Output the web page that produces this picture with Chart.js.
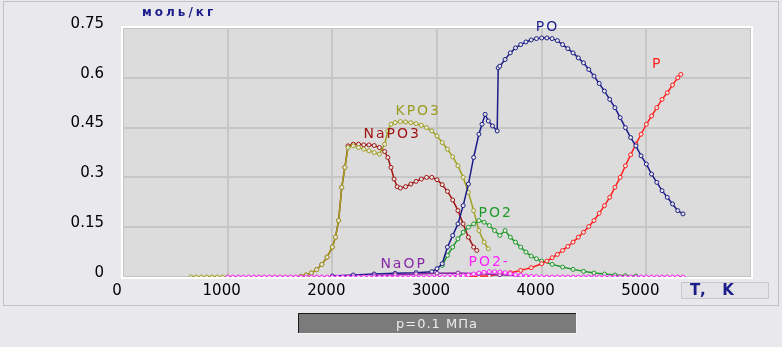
<!DOCTYPE html>
<html>
<head>
<meta charset="utf-8">
<script src="https://cdn.jsdelivr.net/npm/chart.js@4"></script>
<style>
html, body { margin: 0; padding: 0; background: #e9e9ed; }
canvas { display: block; }
</style>
</head>
<body>
<canvas id="chart" width="782" height="347" style="width:782px;height:347px"></canvas>
<script>
// temperature, K  /  concentration, mol/kg
var kpo3T = [650, 700, 750, 800, 850, 900, 950, 1000, 1700, 1750, 1800, 1850, 1900, 1950, 2000, 2030, 2060, 2090, 2120, 2150,
    2200, 2250, 2300, 2350, 2400, 2450, 2500, 2530, 2560, 2600, 2650, 2700, 2750, 2800, 2850, 2900, 2950, 3000, 3050, 3100,
    3150, 3200, 3250, 3300, 3350, 3400, 3450, 3490];
var kpo3Y = [0, 0, 0, 0, 0, 0, 0, 0, 0.002, 0.006, 0.012, 0.022, 0.038, 0.06, 0.09, 0.12, 0.17, 0.27, 0.33, 0.39,
    0.395, 0.39, 0.385, 0.38, 0.375, 0.37, 0.4, 0.44, 0.46, 0.465, 0.468, 0.467, 0.465, 0.462, 0.457, 0.45, 0.44, 0.425, 0.405, 0.385,
    0.362, 0.335, 0.3, 0.255, 0.2, 0.14, 0.105, 0.085];

var napo3T = [1700, 1750, 1800, 1850, 1900, 1950, 2000, 2030, 2060, 2090, 2120, 2150, 2200, 2250, 2300, 2350, 2400, 2450, 2500, 2530,
    2560, 2590, 2620, 2650, 2700, 2750, 2800, 2850, 2900, 2950, 3000, 3050, 3100, 3150, 3200, 3250, 3300, 3350, 3380];
var napo3Y = [0.002, 0.006, 0.012, 0.022, 0.038, 0.06, 0.09, 0.12, 0.17, 0.27, 0.33, 0.395, 0.4, 0.4, 0.398, 0.398, 0.396, 0.39, 0.378, 0.36,
    0.33, 0.295, 0.272, 0.268, 0.272, 0.28, 0.288, 0.295, 0.3, 0.3, 0.293, 0.278, 0.258, 0.232, 0.2, 0.16, 0.12, 0.09, 0.08];

var poT = [2000, 2200, 2400, 2600, 2800, 2950, 3000, 3050, 3100, 3150, 3200, 3250, 3300, 3350, 3400, 3430, 3460, 3490, 3530, 3575,
    3585, 3600, 3650, 3700, 3750, 3800, 3850, 3900, 3950, 4000, 4050, 4100, 4150, 4200, 4250, 4300, 4350, 4400, 4450, 4500,
    4550, 4600, 4650, 4700, 4750, 4800, 4850, 4900, 4950, 5000, 5050, 5100, 5150, 5200, 5250, 5300, 5350];
var poY = [0.003, 0.006, 0.009, 0.011, 0.013, 0.016, 0.025, 0.04, 0.09, 0.125, 0.16, 0.215, 0.28, 0.36, 0.43, 0.46, 0.49, 0.47, 0.455, 0.44,
    0.63, 0.635, 0.655, 0.675, 0.69, 0.7, 0.708, 0.714, 0.718, 0.72, 0.72, 0.718, 0.712, 0.7, 0.688, 0.675, 0.66, 0.645, 0.625, 0.605,
    0.583, 0.56, 0.535, 0.51, 0.48, 0.45, 0.42, 0.395, 0.365, 0.34, 0.31, 0.285, 0.26, 0.24, 0.22, 0.2, 0.19];

var pT = [3300, 3400, 3500, 3600, 3700, 3800, 3900, 4000, 4050, 4100, 4150, 4200, 4250, 4300, 4350, 4400, 4450, 4500, 4550, 4600,
    4650, 4700, 4750, 4800, 4850, 4900, 4950, 5000, 5050, 5100, 5150, 5200, 5250, 5300, 5330];
var pY = [0, 0.002, 0.004, 0.008, 0.013, 0.02, 0.028, 0.04, 0.048, 0.058, 0.068, 0.08, 0.092, 0.105, 0.12, 0.135, 0.152, 0.17, 0.192, 0.215,
    0.24, 0.27, 0.3, 0.335, 0.368, 0.4, 0.43, 0.46, 0.485, 0.51, 0.535, 0.555, 0.578, 0.6, 0.61];

var po2T = [3050, 3100, 3150, 3200, 3250, 3300, 3350, 3400, 3450, 3500, 3550, 3600, 3650, 3700, 3750, 3800, 3850, 3900, 3950, 4000,
    4100, 4200, 4300, 4400, 4500, 4600, 4700, 4800, 4900];
var po2Y = [0.035, 0.065, 0.09, 0.115, 0.135, 0.15, 0.16, 0.17, 0.165, 0.155, 0.14, 0.125, 0.14, 0.12, 0.105, 0.09, 0.075, 0.063, 0.055, 0.048,
    0.038, 0.03, 0.023, 0.017, 0.012, 0.009, 0.006, 0.004, 0.003];

var naopT = [2400, 2600, 2800, 3000, 3200, 3400, 3600, 3800];
var naopY = [0.004, 0.007, 0.009, 0.011, 0.012, 0.01, 0.007, 0.004];

var po2mT = [1000, 1050, 1100, 1150, 1200, 1250, 1300, 1350, 1400, 1450, 1500, 1550, 1600, 1650, 1700, 1750, 1800, 1850, 1900, 1950,
    2000, 2050, 2100, 2150, 2200, 2250, 2300, 2350, 2400, 2450, 2500, 2550, 2600, 2650, 2700, 2750, 2800, 2850, 2900, 2950,
    3000, 3050, 3100, 3150, 3200, 3250, 3300, 3350, 3400, 3450, 3500, 3550, 3600, 3650, 3700, 3750, 3800, 3850, 3900, 3950,
    4000, 4050, 4100, 4150, 4200, 4250, 4300, 4350, 4400, 4450, 4500, 4550, 4600, 4650, 4700, 4750, 4800, 4850, 4900, 4950,
    5000, 5050, 5100, 5150, 5200, 5250, 5300, 5350];
var po2mY = [0, 0, 0, 0, 0, 0, 0, 0, 0, 0, 0, 0, 0, 0, 0, 0, 0, 0, 0, 0,
    0, 0, 0, 0, 0, 0, 0, 0, 0, 0, 0, 0, 0, 0, 0, 0, 0, 0, 0, 0,
    0, 0, 0.001, 0.002, 0.003, 0.004, 0.006, 0.009, 0.012, 0.014, 0.016, 0.016, 0.015, 0.013, 0.01, 0.007, 0.005, 0.003, 0.002, 0.001,
    0, 0, 0, 0, 0, 0, 0, 0, 0, 0, 0, 0, 0, 0, 0, 0, 0, 0, 0, 0,
    0, 0, 0, 0, 0, 0, 0, 0];

var xTicks = [0, 1000, 2000, 3000, 4000, 5000];
var yTicks = [0, 0.15, 0.3, 0.45, 0.6, 0.75];

// curve names written next to the curves: [text, T, value, colour]
var curveLabels = [
    ["PO", 3943, 0.741, "#1c1c8a"],
    ["P", 5053, 0.63, "#ff2020"],
    ["KPO3", 2603, 0.488, "#9c9c22"],
    ["NaPO3", 2297, 0.418, "#a01414"],
    ["PO2", 3397, 0.182, "#1f9a2c"],
    ["NaOP", 2459, 0.026, "#8a2aa8"],
    ["PO2-", 3301, 0.032, "#ff22ff"]
];

function pts(t, y) {
    return t.map((v, i) => ({ x: v, y: y[i] }));
}

function series(label, t, y, color, order) {
    return {
        label: label,
        data: pts(t, y),
        borderColor: color,
        borderWidth: 1.5,
        pointRadius: 2,
        pointBorderWidth: 1,
        pointBorderColor: color,
        pointBackgroundColor: "#e6e6e2",
        fill: false,
        tension: 0,
        order: order
    };
}

var framePlugin = {
    id: "frame",
    beforeDraw(chart) {
        var ctx = chart.ctx, a = chart.chartArea;
        ctx.save();
        ctx.fillStyle = "#e9e9ed";
        ctx.fillRect(0, 0, chart.width, chart.height);
        ctx.strokeStyle = "#c2c2c6";
        ctx.lineWidth = 1;
        ctx.strokeRect(3.5, 1.5, 775, 304);
        ctx.fillStyle = "#dcdcdc";
        ctx.fillRect(a.left, a.top, a.right - a.left, a.bottom - a.top);
        ctx.restore();
    },
    beforeDatasetsDraw(chart) {
        var ctx = chart.ctx, a = chart.chartArea;
        ctx.save();
        ctx.strokeStyle = "#ffffff";
        ctx.lineWidth = 2;
        ctx.strokeRect(a.left - 1, a.top - 1, a.right - a.left + 2, a.bottom - a.top + 2);
        ctx.restore();
    },
    afterDraw(chart) {
        var ctx = chart.ctx, xs = chart.scales.x, ys = chart.scales.y;
        ctx.save();
        ctx.textBaseline = "alphabetic";
        ctx.textAlign = "left";

        // curve names
        ctx.font = "14px 'DejaVu Sans'";
        ctx.letterSpacing = "2px";
        curveLabels.forEach(function (l) {
            ctx.fillStyle = l[3];
            ctx.fillText(l[0], xs.getPixelForValue(l[1]), ys.getPixelForValue(l[2]));
        });

        // unit of the value axis
        ctx.font = "bold 12px 'DejaVu Sans'";
        ctx.letterSpacing = "3px";
        ctx.fillStyle = "#1c1c8a";
        ctx.fillText("моль/кг", 142, 16);

        // T, K box
        ctx.letterSpacing = "0px";
        ctx.fillStyle = "#e4e4e8";
        ctx.fillRect(681, 282, 88, 17);
        ctx.strokeStyle = "#c8c8cc";
        ctx.lineWidth = 1;
        ctx.strokeRect(681.5, 282.5, 87, 16);
        ctx.font = "bold 15px 'DejaVu Sans'";
        ctx.letterSpacing = "2px";
        ctx.fillStyle = "#1c1c8a";
        ctx.fillText("T,  K", 690, 295);

        // pressure bar
        ctx.letterSpacing = "0px";
        ctx.fillStyle = "#7b7b7b";
        ctx.fillRect(298, 313, 278, 20);
        ctx.strokeStyle = "#1a1a1a";
        ctx.beginPath();
        ctx.moveTo(298.5, 333); ctx.lineTo(298.5, 313.5); ctx.lineTo(576, 313.5);
        ctx.stroke();
        ctx.strokeStyle = "#f4f4f4";
        ctx.beginPath();
        ctx.moveTo(576.5, 313); ctx.lineTo(576.5, 333.5); ctx.lineTo(298, 333.5);
        ctx.stroke();
        ctx.font = "13px 'DejaVu Sans'";
        ctx.letterSpacing = "1px";
        ctx.fillStyle = "#ececec";
        ctx.textAlign = "center";
        ctx.fillText("p=0.1 МПа", 437, 328);
        ctx.restore();
    }
};

var ctx = document.getElementById("chart").getContext("2d");
new Chart(ctx, {
    type: "line",
    data: {
        datasets: [
            series("PO2-", po2mT, po2mY, "#ff22ff", 1),
            series("NaOP", naopT, naopY, "#8a2aa8", 2),
            series("PO", poT, poY, "#1c1c8a", 3),
            series("P", pT, pY, "#ff2020", 4),
            series("PO2", po2T, po2Y, "#1f9a2c", 5),
            series("KPO3", kpo3T, kpo3Y, "#a0a020", 6),
            series("NaPO3", napo3T, napo3Y, "#a01414", 7)
        ]
    },
    options: {
        responsive: false,
        animation: false,
        devicePixelRatio: 1,
        layout: { padding: { left: 0, top: 22, right: 31, bottom: 0 } },
        plugins: { legend: { display: false }, tooltip: { enabled: false } },
        scales: {
            x: {
                type: "linear",
                min: 0,
                max: 6000,
                afterBuildTicks: function (s) { s.ticks = xTicks.concat([6000]).map(v => ({ value: v })); },
                afterFit: function (s) { s.height = 70; },
                grid: { color: "#c6c6c6", lineWidth: 2, drawTicks: false },
                border: { display: false },
                ticks: {
                    color: "#000",
                    font: { family: "'DejaVu Sans'", size: 15 },
                    padding: 5,
                    labelOffset: -6,
                    maxRotation: 0,
                    callback: v => xTicks.indexOf(v) >= 0 ? String(v) : ""
                }
            },
            y: {
                min: 0,
                max: 0.75,
                afterBuildTicks: function (s) { s.ticks = yTicks.map(v => ({ value: v })); },
                afterFit: function (s) { s.width = 123; },
                grid: { color: "#c6c6c6", lineWidth: 2, drawTicks: false },
                border: { display: false },
                ticks: {
                    color: "#000",
                    font: { family: "'DejaVu Sans'", size: 15 },
                    padding: 19,
                    labelOffset: -4,
                    callback: v => String(parseFloat(v.toFixed(2)))
                }
            }
        }
    },
    plugins: [framePlugin]
});
</script>
</body>
</html>
